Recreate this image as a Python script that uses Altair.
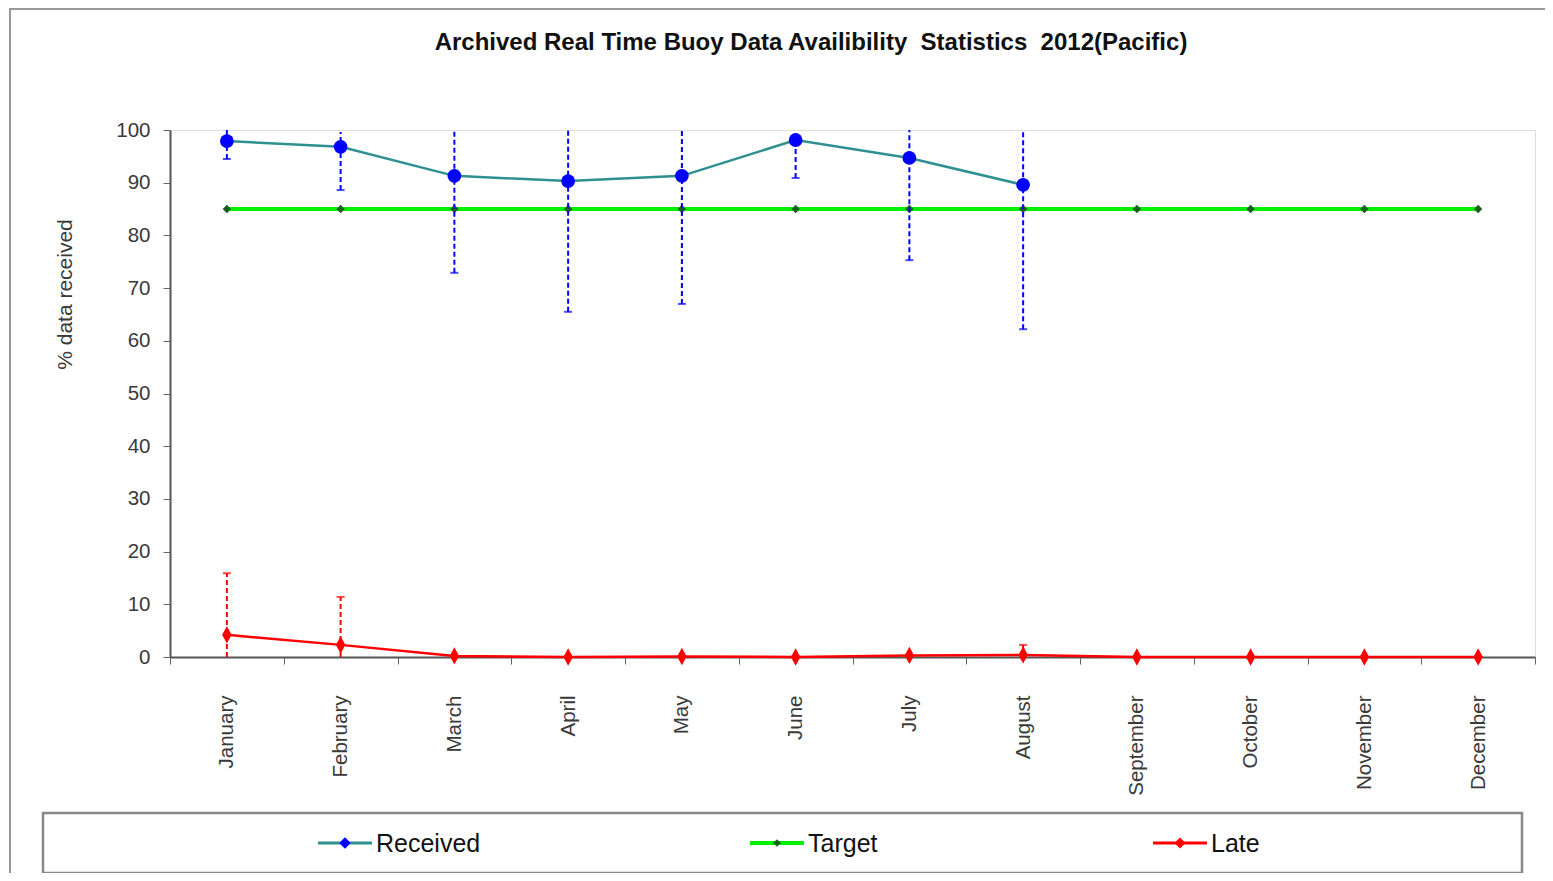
import altair as alt
import pandas as pd

months = ["January", "February", "March", "April", "May", "June", "July",
          "August", "September", "October", "November", "December"]

received = [97.9, 96.8, 91.3, 90.3, 91.3, 98.1, 94.7, 89.6]
received_low = [94.5, 88.6, 72.9, 65.5, 67.0, 90.9, 75.3, 62.2]
received_high = [100, 99.6, 100, 100, 100, 100, 100, 100]

target = [85] * 12

late = [4.2, 2.3, 0.2, 0.0, 0.1, 0.0, 0.3, 0.4, 0.0, 0.0, 0.0, 0.0]
late_err_months = ["January", "February", "August"]
late_low = [0, 0, 0]
late_high = [15.9, 11.4, 2.3]

title_text = "Archived Real Time Buoy Data Availibility\u00a0 Statistics\u00a0 2012(Pacific)"
series_names = ["Received", "Target", "Late"]

df_rec = pd.DataFrame({"month": months[:8], "value": received,
                       "low": received_low, "high": received_high})
df_tgt = pd.DataFrame({"month": months, "value": target})
df_late = pd.DataFrame({"month": months, "value": late})
df_late_err = pd.DataFrame({"month": late_err_months, "low": late_low, "high": late_high})

FONT = "Liberation Sans"
xscale = alt.Scale(type="band", domain=months, paddingInner=0, paddingOuter=0)
yscale = alt.Scale(domain=[0, 100])

X = alt.X("month:N", scale=xscale, sort=months,
          axis=alt.Axis(title=None, labelAngle=270, labelAlign="right", labelBaseline="middle",
                        labelPadding=31, tickBand="extent", tickSize=7, tickColor="#666",
                        domainColor="#555", domainWidth=2, labelFontSize=20.5,
                        labelColor="#3a3a3a", labelFont=FONT))
Y = alt.Y("value:Q", scale=yscale,
          axis=alt.Axis(title="% data received", values=list(range(0, 101, 10)),
                        grid=False, tickSize=7, tickColor="#666", domainColor="#555",
                        domainWidth=2, labelPadding=13, labelFontSize=20.5, labelColor="#3a3a3a",
                        labelFont=FONT, titleFont=FONT, titleFontSize=21, titleFontWeight="normal",
                        titleColor="#3a3a3a", titleAngle=270, titleX=-105, titleY=164,
                        titleAlign="center", titleBaseline="middle"))

target_line = alt.Chart(df_tgt).mark_line(color="#00ee00", strokeWidth=4).encode(x=X, y=Y)
target_pts = alt.Chart(df_tgt).mark_point(shape="diamond", filled=True, color="#17601a",
                                          size=70, opacity=1).encode(x=X, y=Y)

rec_err = alt.Chart(df_rec).mark_rule(color="#0000ff", strokeWidth=2, strokeDash=[5, 3]).encode(
    x=X, y=alt.Y("low:Q", scale=yscale), y2="high:Q")
rec_cap = alt.Chart(df_rec).mark_tick(color="#0000ff", orient="horizontal", size=8,
                                      thickness=2).encode(x=X, y=alt.Y("low:Q", scale=yscale))
rec_line = alt.Chart(df_rec).mark_line(color="#2e9090", strokeWidth=2.5).encode(x=X, y=Y)
rec_pts = alt.Chart(df_rec).mark_point(shape="circle", filled=True, color="#0000ff",
                                       size=190, opacity=1).encode(x=X, y=Y)

late_err = alt.Chart(df_late_err).mark_rule(color="#ff0000", strokeWidth=2, strokeDash=[5, 3]).encode(
    x=X, y=alt.Y("low:Q", scale=yscale), y2="high:Q")
late_cap = alt.Chart(df_late_err).mark_tick(color="#ff0000", orient="horizontal", size=8,
                                            thickness=2).encode(x=X, y=alt.Y("high:Q", scale=yscale))
late_line = alt.Chart(df_late).mark_line(color="#ff0000", strokeWidth=2.5).encode(x=X, y=Y)
tall_diamond = "M0,-1L0.55,0L0,1L-0.55,0Z"
late_pts = alt.Chart(df_late).mark_point(shape=tall_diamond, filled=True, color="#ff0000",
                                         size=300, opacity=1).encode(x=X, y=Y)

# decorations: outer frame, title and legend box
one = pd.DataFrame({"k": [0]})
frame = alt.Chart(one).mark_rect(fill=None, stroke="#999999", strokeWidth=2, clip=False).encode(
    x=alt.value(-160), x2=alt.value(1420), y=alt.value(-121), y2=alt.value(800))
title = alt.Chart(pd.DataFrame({"t": [title_text]})).mark_text(
    align="center", baseline="middle", font=FONT, fontSize=24, fontWeight="bold",
    color="#111", clip=False).encode(x=alt.value(641), y=alt.value(-87), text="t:N")
legend_box = alt.Chart(one).mark_rect(fill="white", stroke="#888888", strokeWidth=2.5, clip=False).encode(
    x=alt.value(-127), x2=alt.value(1352), y=alt.value(683), y2=alt.value(743))

leg_layers = []
leg_cfg = [
    ("Received", 175, "#2e9090", "#0000ff", "diamond", 130),
    ("Target", 607, "#00ee00", "#17601a", "diamond", 60),
    ("Late", 1010, "#ff0000", "#ff0000", "diamond", 120),
]
for name, cx, lc, mc, shp, sz in leg_cfg:
    d = pd.DataFrame({"label": [name]})
    leg_layers.append(alt.Chart(d).mark_rule(color=lc, strokeWidth=3 if name != "Target" else 4,
                                             clip=False).encode(
        x=alt.value(cx - 27), x2=alt.value(cx + 27), y=alt.value(713)))
    leg_layers.append(alt.Chart(d).mark_point(shape=shp, filled=True, color=mc, size=sz, opacity=1,
                                              clip=False).encode(
        x=alt.value(cx), y=alt.value(713)))
    leg_layers.append(alt.Chart(d).mark_text(align="left", baseline="middle", font=FONT, fontSize=25,
                                             color="#111", clip=False).encode(
        x=alt.value(cx + 31), y=alt.value(714), text="label:N"))

chart = alt.layer(
    frame, title, legend_box, *leg_layers,
    target_line, target_pts, rec_err, rec_cap, rec_line, rec_pts,
    late_err, late_cap, late_line, late_pts
).properties(
    width=1365, height=527,
    autosize=alt.AutoSizeParams(type="none"),
    padding={"left": 162, "top": 122, "right": 10, "bottom": 216},
).configure_view(stroke=None).configure(background="white")

chart.save("out.html", embed_options={"renderer": "svg", "actions": False})
